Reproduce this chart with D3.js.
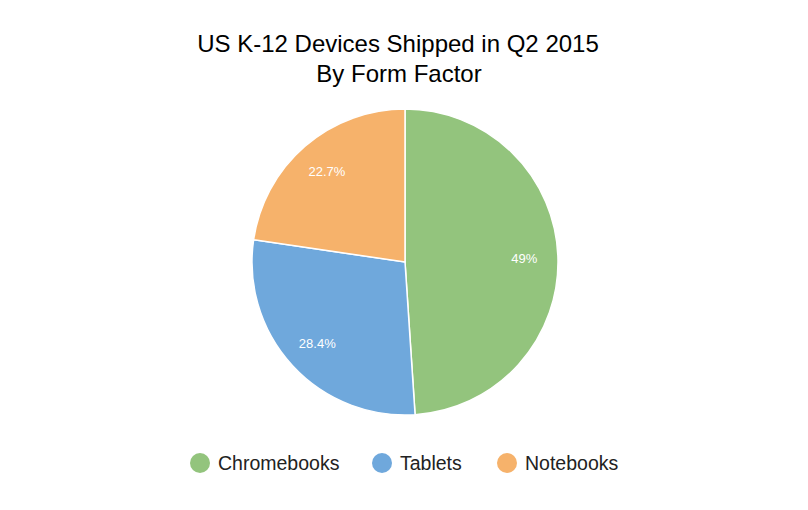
<!DOCTYPE html>
<html>
<head>
<meta charset="utf-8">
<script src="https://cdn.jsdelivr.net/npm/d3@7"></script>
<style>
body{margin:0;background:#fff;}
</style>
</head>
<body>
<div id="container"></div>
<script>
var categories = ['Chromebooks','Tablets','Notebooks'];
var values = [49, 28.4, 22.7];
var labels = ['49%','28.4%','22.7%'];
var colors = ['#93c47d','#6fa8dc','#f6b26b'];

var w = 808, h = 510;
var cx = 405, cy = 262, r = 153;
var font = '"Liberation Sans", Arial, sans-serif';

var svg = d3.select('#container').append('svg')
	.attr('width',w)
	.attr('height',h);

// title
svg.append('text')
	.attr('x',398).attr('y',52)
	.attr('text-anchor','middle')
	.style('font-family',font)
	.style('font-size','24px')
	.text('US K-12 Devices Shipped in Q2 2015');
svg.append('text')
	.attr('x',399).attr('y',82)
	.attr('text-anchor','middle')
	.style('font-family',font)
	.style('font-size','24px')
	.text('By Form Factor');

var pie = d3.pie().sort(null).value(function(d){ return d; });
var arc = d3.arc().innerRadius(0).outerRadius(r);
var labelArc = d3.arc().innerRadius(r*0.78).outerRadius(r*0.78);

var g = svg.append('g').attr('transform','translate('+cx+','+cy+')');
var slices = pie(values);

g.selectAll('path.slice')
	.data(slices)
	.enter().append('path')
	.classed('slice',true)
	.attr('d',arc)
	.style('fill',function(d,i){ return colors[i]; })
	.style('stroke','#fff')
	.style('stroke-width',1.5);

g.selectAll('text.lbl')
	.data(slices)
	.enter().append('text')
	.classed('lbl',true)
	.attr('transform',function(d){ return 'translate('+labelArc.centroid(d)+')'; })
	.attr('dy','0.35em')
	.attr('text-anchor','middle')
	.style('fill','#fff')
	.style('font-family',font)
	.style('font-size','13px')
	.text(function(d,i){ return labels[i]; });

// legend
var legendX = [200, 382, 507];
var legend = svg.selectAll('g.legend')
	.data(categories)
	.enter().append('g')
	.classed('legend',true)
	.attr('transform',function(d,i){ return 'translate('+legendX[i]+',463)'; });
legend.append('circle')
	.attr('r',10)
	.style('fill',function(d,i){ return colors[i]; });
legend.append('text')
	.attr('x',18)
	.attr('dy','0.35em')
	.style('font-family',font)
	.style('font-size','19.5px')
	.style('fill','#222')
	.text(function(d){ return d; });
</script>
</body>
</html>
